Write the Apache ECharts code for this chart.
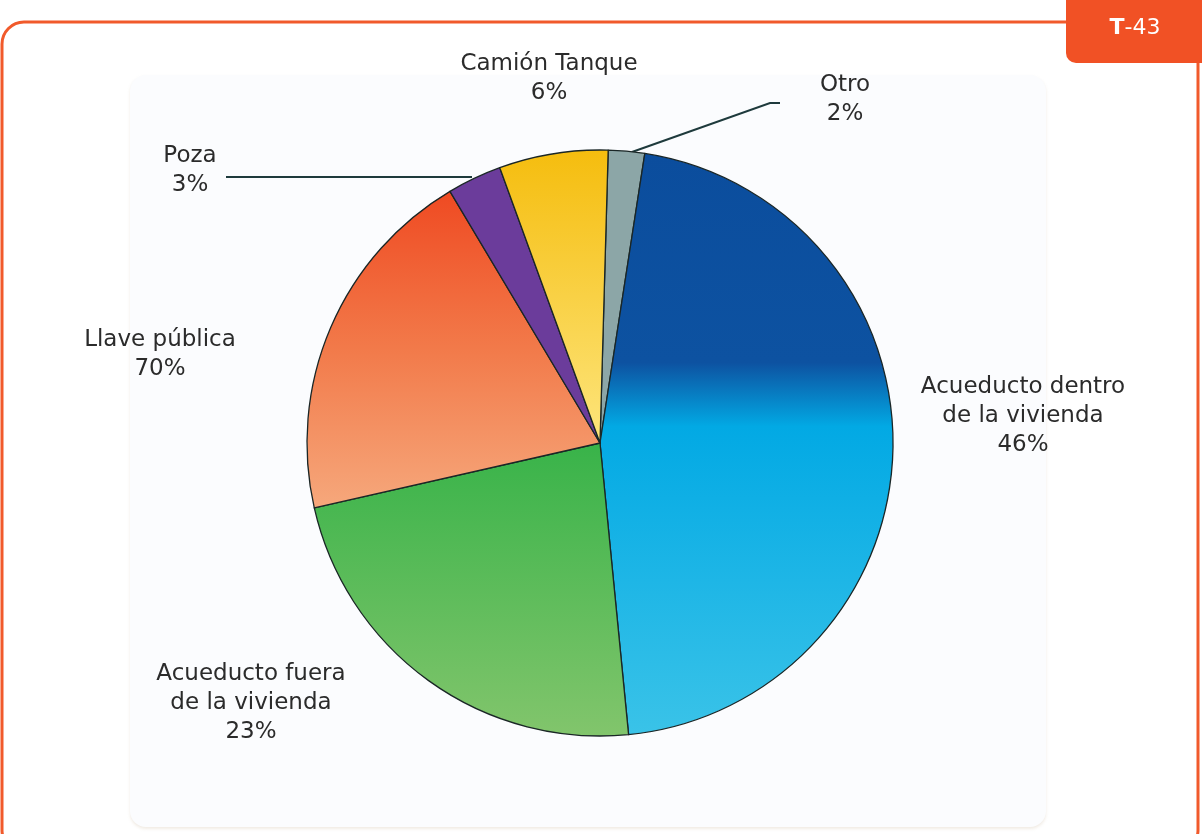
<!DOCTYPE html>
<html>
<head>
<meta charset="utf-8">
<script src="https://cdn.jsdelivr.net/npm/echarts@6/dist/echarts.min.js"></script>
<style>
html,body{margin:0;padding:0;background:#fff;}
#c{width:1202px;height:834px;}
</style>
</head>
<body>
<div id="c"></div>
<script>
// ---- data ----
const categories = ['Otro', 'Acueducto dentro\nde la vivienda', 'Acueducto fuera\nde la vivienda', 'Llave pública', 'Poza', 'Camión Tanque'];
const values = [2, 46, 23, 20, 3, 6];
const pctLabels = ['2%', '46%', '23%', '70%', '3%', '6%'];

// ---- styling ----
function lg(stops) {
  return new echarts.graphic.LinearGradient(0, 0, 0, 1, stops.map(s => ({offset: s[0], color: s[1]})));
}
const fills = [
  '#8ca6a7',
  lg([[0, '#0b4d9d'], [0.36, '#0d52a1'], [0.47, '#02a9e4'], [1, '#3ac3e8']]),
  lg([[0, '#38b349'], [1, '#82c56c']]),
  lg([[0, '#ef4a22'], [0.5, '#f27a4a'], [1, '#f6a87c']]),
  '#6b3c9b',
  lg([[0, '#f5bd0e'], [1, '#fde57c']])
];
const labelPos = [[845, 100], [1023, 416], [251, 703], [160, 355], [190, 171], [549, 79]];

const chart = echarts.init(document.getElementById('c'));
chart.setOption({
  backgroundColor: '#ffffff',
  animation: false,
  graphic: [
    {type: 'rect', z: 0, shape: {x: 2, y: 22, width: 1196, height: 830, r: 22},
     style: {fill: '#ffffff', stroke: '#f15a2b', lineWidth: 3}},
    {type: 'rect', z: 1, shape: {x: 130, y: 75, width: 916, height: 752, r: 16},
     style: {fill: '#fbfcfe', shadowColor: 'rgba(200,180,150,0.25)', shadowBlur: 3, shadowOffsetY: 2}},
    {type: 'rect', z: 2, shape: {x: 1066, y: -20, width: 136, height: 83, r: [0, 0, 0, 10]},
     style: {fill: '#f15125'}},
    {type: 'text', z: 3, x: 1135, y: 28,
     style: {text: '{b|T}{n|-43}', align: 'center', verticalAlign: 'middle',
       rich: {b: {fontFamily: 'DejaVu Sans', fontWeight: 'bold', fontSize: 22, fill: '#fff', color: '#fff'},
              n: {fontFamily: 'DejaVu Sans', fontSize: 22, fill: '#fff', color: '#fff'}}}}
  ],
  series: [{
    type: 'pie',
    z: 5,
    center: [600, 443],
    radius: 293,
    startAngle: 88.4,
    clockwise: true,
    avoidLabelOverlap: false,
    itemStyle: {borderColor: '#1a2626', borderWidth: 1.3},
    label: {
      show: true,
      position: 'outside',
      fontFamily: 'DejaVu Sans',
      fontSize: 23,
      lineHeight: 29,
      color: '#2b2b2b',
      align: 'center',
      formatter: p => categories[p.dataIndex] + '\n' + pctLabels[p.dataIndex]
    },
    labelLine: {show: false, lineStyle: {color: '#1e3a3c', width: 2}},
    labelLayout: function (params) {
      const i = params.dataIndex;
      const pos = labelPos[i];
      const out = {x: pos[0], y: pos[1], align: 'center', verticalAlign: 'middle'};
      if (i === 0) out.labelLinePoints = [[632, 152], [770, 103], [780, 103]];
      if (i === 4) out.labelLinePoints = [[472, 177], [226, 177]];
      return out;
    },
    data: values.map((v, i) => ({
      value: v,
      name: categories[i],
      itemStyle: {color: fills[i]},
      labelLine: {show: i === 0 || i === 4}
    }))
  }]
});
</script>
</body>
</html>
